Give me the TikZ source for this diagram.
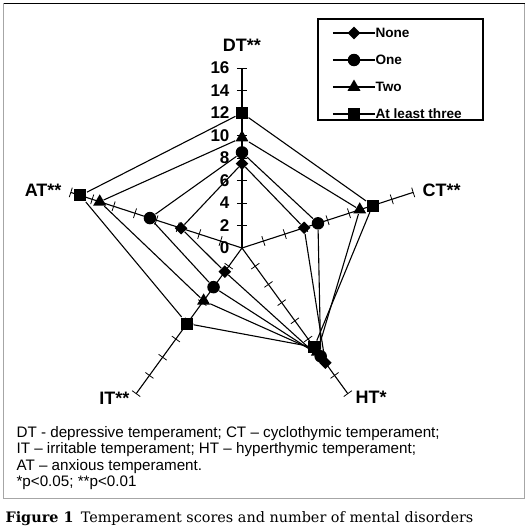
\documentclass[tikz,border=0pt]{standalone}
\usepackage{fontspec}
\setmainfont{DejaVu Serif}
\setsansfont{Liberation Sans}
\usetikzlibrary{shapes.geometric,calc}

\begin{document}
\begin{tikzpicture}[x=1pt,y=1pt,line width=1.1pt,
  mdiam/.style={shape=diamond, fill=black, inner sep=0pt, minimum size=13pt},
  mcirc/.style={shape=circle, fill=black, inner sep=0pt, minimum size=12.5pt},
  mtri/.style={shape=regular polygon, regular polygon sides=3, fill=black, inner sep=0pt, minimum size=15pt},
  msq/.style={shape=rectangle, fill=black, inner sep=0pt, minimum size=12pt},
  axlabel/.style={font=\sffamily\bfseries\fontsize{18}{18}\selectfont, inner sep=0pt},
  ticklabel/.style={font=\sffamily\bfseries\fontsize{17}{17}\selectfont, inner sep=0pt, anchor=east},
  legtext/.style={font=\sffamily\bfseries\fontsize{13.6}{13.6}\selectfont, inner sep=0pt, anchor=west}]

\useasboundingbox (-242,-283) rectangle (289,248);
\draw[gray!70, line width=1pt] (-238,-250) rectangle (283,245);
\draw[line width=1pt] (-238,245) -- (283,245);

\coordinate (o) at (0,0);
\coordinate (a1) at (90:180);
\coordinate (a2) at (18:180);
\coordinate (a3) at (-54:180);
\coordinate (a4) at (-126:180);
\coordinate (a5) at (162:180);
\foreach \i in {1,...,5} \draw (o) -- (a\i);
\foreach \ang in {90,18,-54,-126,162}
  \foreach \k in {2,4,...,16}
    \draw[line width=0.8pt] ($(\ang:\k*11.25)+(\ang+90:5)$) -- ($(\ang:\k*11.25)+(\ang-90:5)$);
\foreach \k in {0,2,...,16}
  \node[ticklabel] (n\k) at (-12,\k*11.25) {\k};

\node[axlabel] (lDT) at (0,203) {DT**};
\node[axlabel, anchor=west] (lCT) at (180,58) {CT**};
\node[axlabel, anchor=west] (lHT) at (113,-149) {HT*};
\node[axlabel, anchor=east] (lIT) at (-112,-150) {IT**};
\node[axlabel, anchor=east] (lAT) at (-180,58) {AT**};

\node[mdiam] (d1) at (90:84.4) {};
\node[mdiam] (d2) at (18:65.3) {};
\node[mdiam] (d3) at (-54:141.8) {};
\node[mdiam] (d4) at (-126:29.3) {};
\node[mdiam] (d5) at (162:64.1) {};
\draw (d1) -- (d2) -- (d3) -- (d4) -- (d5) -- (d1);

\node[mcirc] (c1) at (90:95.6) {};
\node[mcirc] (c2) at (18:79.9) {};
\node[mcirc] (c3) at (-54:133.9) {};
\node[mcirc] (c4) at (-126:48.4) {};
\node[mcirc] (c5) at (162:96.8) {};
\draw (c1) -- (c2) -- (c3) -- (c4) -- (c5) -- (c1);

\node[mtri] (t1) at (90:110.3) {};
\node[mtri] (t2) at (18:123.8) {};
\node[mtri] (t3) at (-54:128.3) {};
\node[mtri] (t4) at (-126:65.3) {};
\node[mtri] (t5) at (162:149.6) {};
\draw (t1) -- (t2) -- (t3) -- (t4) -- (t5) -- (t1);

\node[msq] (s1) at (90:135) {};
\node[msq] (s2) at (18:137.3) {};
\node[msq] (s3) at (-54:122.6) {};
\node[msq] (s4) at (-126:93.4) {};
\node[msq] (s5) at (162:169.9) {};
\draw (s1) -- (s2) -- (s3) -- (s4) -- (s5) -- (s1);

\draw (76,128) rectangle (241,229);
\coordinate (k1a) at (91,215); \coordinate (k1b) at (133,215);
\coordinate (k2a) at (91,188); \coordinate (k2b) at (133,188);
\coordinate (k3a) at (91,161); \coordinate (k3b) at (133,161);
\coordinate (k4a) at (91,134); \coordinate (k4b) at (133,134);
\draw (k1a) -- (k1b);
\draw (k2a) -- (k2b);
\draw (k3a) -- (k3b);
\draw (k4a) -- (k4b);
\node[mdiam] (k1) at (112,215) {};
\node[mcirc] (k2) at (112,188) {};
\node[mtri] (k3) at (112,161) {};
\node[msq] (k4) at (112,134) {};
\node[legtext] (g1) at (k1b) {None};
\node[legtext] (g2) at (k2b) {One};
\node[legtext] (g3) at (k3b) {Two};
\node[legtext] (g4) at (k4b) {At least three};

\node[anchor=north west, align=left, inner sep=0pt,
  font=\sffamily\fontsize{15.2}{16.4}\selectfont] (notes) at (-226,-178)
  {DT - depressive temperament; CT – cyclothymic temperament;\\
   IT – irritable temperament; HT – hyperthymic temperament;\\
   AT – anxious temperament.\\
   *p<0.05; **p<0.01};
\node[anchor=west, inner sep=0pt, font=\fontsize{14.4}{14.4}\selectfont] (cap) at (-237,-271)
  {\textbf{Figure 1}\hspace{0.5em}Temperament scores and number of mental disorders};
\end{tikzpicture}
\end{document}
